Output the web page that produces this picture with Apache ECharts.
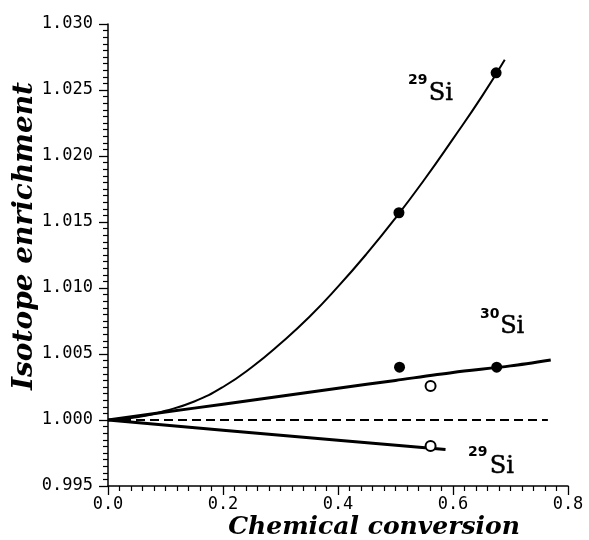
<!DOCTYPE html>
<html>
<head>
<meta charset="utf-8">
<script src="https://cdn.jsdelivr.net/npm/echarts@6/dist/echarts.min.js"></script>
<style>
html,body{margin:0;padding:0;background:#fff;}
#chart{width:589px;height:540px;}
</style>
</head>
<body>
<div id="chart"></div>
<script>
// ---- data ----
const curve29Up_x = [0, 0.05, 0.10, 0.15, 0.20, 0.25, 0.30, 0.35, 0.40, 0.45, 0.50, 0.55, 0.60, 0.65, 0.69];
const curve29Up_y = [1.0000, 1.0002, 1.0007, 1.0014, 1.0025, 1.0040, 1.0058, 1.0078, 1.0101, 1.0126, 1.0153, 1.0182, 1.0213, 1.0245, 1.0273];
const line30_x = [0, 0.1, 0.2, 0.3, 0.4, 0.5, 0.6, 0.7, 0.77];
const line30_y = [1.0000, 1.0006, 1.0012, 1.0018, 1.0024, 1.0030, 1.0036, 1.0041, 1.00455];
const line29Down_x = [0, 0.2, 0.4, 0.587];
const line29Down_y = [1.0000, 0.99923, 0.99847, 0.99776];
const baseline_x = [0, 0.765];
const baseline_y = [1.0, 1.0];
const filled29_x = [0.506, 0.675];
const filled29_y = [1.0157, 1.0263];
const filled30_x = [0.507, 0.676];
const filled30_y = [1.0040, 1.0040];
const open30_x = [0.561];
const open30_y = [1.00258];
const open29_x = [0.561];
const open29_y = [0.99803];
const xTicks = [0.0, 0.2, 0.4, 0.6, 0.8];
const yTicks = [0.995, 1.000, 1.005, 1.010, 1.015, 1.020, 1.025, 1.030];
const xTitle = 'Chemical conversion';
const yTitle = 'Isotope enrichment';

function pairs(xs, ys){ return xs.map((x,i)=>[x, ys[i]]); }

const chart = echarts.init(document.getElementById('chart'), null, {renderer:'canvas'});
const tickFont = {fontFamily:'DejaVu Sans Mono', fontSize:17, color:'#000'};

const option = {
  animation:false,
  backgroundColor:'#fff',
  grid:{left:108, right:21, top:24, bottom:54, containLabel:false},
  xAxis:{
    type:'value', min:xTicks[0], max:xTicks[xTicks.length-1], interval:0.2,
    axisLine:{show:true, lineStyle:{color:'#000', width:1.5}},
    axisTick:{show:true, inside:false, length:9, lineStyle:{color:'#000', width:1.3}},
    minorTick:{show:true, splitNumber:10, length:5, lineStyle:{color:'#000', width:1.2}},
    splitLine:{show:false},
    axisLabel:Object.assign({margin:10, formatter:v=>v.toFixed(1)}, tickFont)
  },
  yAxis:{
    type:'value', min:yTicks[0], max:yTicks[yTicks.length-1], interval:0.005,
    axisLine:{show:true, lineStyle:{color:'#000', width:1.5}},
    axisTick:{show:true, inside:false, length:9, lineStyle:{color:'#000', width:1.3}},
    minorTick:{show:true, splitNumber:10, length:5, lineStyle:{color:'#000', width:1.2}},
    splitLine:{show:false},
    axisLabel:Object.assign({margin:15, formatter:v=>v.toFixed(3)}, tickFont)
  },
  series:[
    {type:'line', data:pairs(curve29Up_x, curve29Up_y), smooth:0.5, showSymbol:false,
     lineStyle:{color:'#000', width:2}, z:2},
    {type:'line', data:pairs(line30_x, line30_y), smooth:0.3, showSymbol:false,
     lineStyle:{color:'#000', width:3}, z:2},
    {type:'line', data:pairs(line29Down_x, line29Down_y), showSymbol:false,
     lineStyle:{color:'#000', width:3}, z:2},
    {type:'line', data:pairs(baseline_x, baseline_y), showSymbol:false,
     lineStyle:{color:'#000', width:1.8, type:[9,5]}, z:1},
    {type:'scatter', data:pairs(filled29_x, filled29_y), symbol:'circle', symbolSize:11,
     itemStyle:{color:'#000', opacity:1}, z:5},
    {type:'scatter', data:pairs(filled30_x, filled30_y), symbol:'circle', symbolSize:11,
     itemStyle:{color:'#000', opacity:1}, z:5},
    {type:'scatter', data:pairs(open30_x, open30_y), symbol:'circle', symbolSize:10,
     itemStyle:{color:'#fff', borderColor:'#000', borderWidth:2, opacity:1}, z:5},
    {type:'scatter', data:pairs(open29_x, open29_y), symbol:'circle', symbolSize:10,
     itemStyle:{color:'#fff', borderColor:'#000', borderWidth:2, opacity:1}, z:5}
  ]
};
chart.setOption(option);

// annotation labels anchored in data space
function px(x, y){ return chart.convertToPixel({gridIndex:0}, [x, y]); }
function txt(text, p, font, extra){
  return {type:'text', x:p[0], y:p[1], silent:true, z:10,
    style:Object.assign({text:text, font:font, fill:'#000',
      align:'left', verticalAlign:'middle', textAlign:'left', textVerticalAlign:'middle'}, extra||{})};
}
const supFont = 'bold 14px "DejaVu Sans"';
const siFont = '24px "DejaVu Serif"';
const siStroke = {stroke:'#000', lineWidth:0.5};
const g = [
  txt('29', px(0.5217, 1.02576), supFont),
  txt('Si', px(0.558, 1.02470), siFont, siStroke),
  txt('30', px(0.647, 1.00803), supFont),
  txt('Si', px(0.682, 1.00705), siFont, siStroke),
  txt('29', px(0.626, 0.99754), supFont),
  txt('Si', px(0.664, 0.99644), siFont, siStroke),
  {type:'text', x:374, y:527, silent:true, z:10,
   style:{text:xTitle, font:'italic bold 25px "DejaVu Serif"', fill:'#000',
     align:'center', verticalAlign:'middle', textAlign:'center', textVerticalAlign:'middle'}},
  {type:'text', x:25, y:236, rotation:Math.PI/2, silent:true, z:10,
   style:{text:yTitle, font:'italic bold 28px "DejaVu Serif"', fill:'#000',
     align:'center', verticalAlign:'middle', textAlign:'center', textVerticalAlign:'middle'}}
];
chart.setOption({graphic:{elements:g}});
</script>
</body>
</html>
